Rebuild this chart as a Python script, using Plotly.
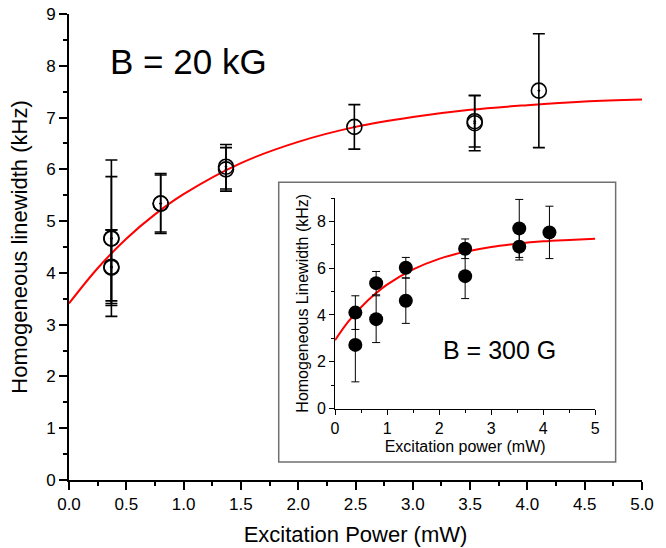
import plotly.graph_objects as go

# ---- main panel data (B = 20 kG) ----
main_power = [0.37, 0.37, 0.37, 0.37, 0.80, 0.80, 1.37, 1.37, 2.49, 3.54, 3.54, 4.10]
main_width = [4.67, 4.66, 4.10, 4.12, 5.34, 5.34, 6.05, 6.00, 6.82, 6.93, 6.89, 7.52]
main_err = [1.51, 1.20, 0.73, 0.71, 0.58, 0.55, 0.43, 0.42, 0.43, 0.50, 0.53, 1.10]

main_fit_x = [0, 0.25, 0.5, 0.75, 1.0, 1.5, 2.0, 2.5, 3.0, 3.5, 4.0, 4.5, 5.0]
main_fit_y = [3.41, 4.09, 4.66, 5.13, 5.52, 6.12, 6.53, 6.82, 7.01, 7.15, 7.24, 7.31, 7.35]

# ---- inset data (B = 300 G) ----
ins_power = [0.39, 0.39, 0.79, 0.79, 1.36, 1.36, 2.50, 2.50, 3.54, 3.54, 4.12]
ins_width = [4.10, 2.72, 5.36, 3.82, 6.02, 4.61, 6.83, 5.66, 7.70, 6.92, 7.53]
ins_err = [0.72, 1.58, 0.50, 1.00, 0.44, 0.97, 0.42, 0.96, 1.24, 0.57, 1.12]

ins_fit_x = [0, 0.25, 0.5, 0.75, 1.0, 1.5, 2.0, 2.5, 3.0, 3.5, 4.0, 4.5, 5.0]
ins_fit_y = [2.92, 3.70, 4.33, 4.86, 5.30, 5.95, 6.40, 6.70, 6.91, 7.05, 7.15, 7.21, 7.26]

main_xticks = [0, 0.5, 1, 1.5, 2, 2.5, 3, 3.5, 4, 4.5, 5]
main_xlabels = ["0.0", "0.5", "1.0", "1.5", "2.0", "2.5", "3.0", "3.5", "4.0", "4.5", "5.0"]

FONT = "Liberation Sans, Arial, sans-serif"

fig = go.Figure()

fig.add_trace(go.Scatter(
    x=main_fit_x, y=main_fit_y, mode="lines", line=dict(color="red", width=2, shape="spline"),
    xaxis="x", yaxis="y", hoverinfo="skip"))
fig.add_trace(go.Scatter(
    x=main_power, y=main_width, mode="markers",
    marker=dict(symbol="circle-open-dot", size=15, color="black", line=dict(width=1.6, color="black")),
    error_y=dict(type="data", array=main_err, visible=True, color="black", thickness=1.6, width=6),
    xaxis="x", yaxis="y"))

fig.add_trace(go.Scatter(
    x=ins_fit_x, y=ins_fit_y, mode="lines", line=dict(color="red", width=2, shape="spline"),
    xaxis="x2", yaxis="y2", hoverinfo="skip"))
fig.add_trace(go.Scatter(
    x=ins_power, y=ins_width, mode="markers",
    marker=dict(symbol="circle", size=14, color="black"),
    error_y=dict(type="data", array=ins_err, visible=True, color="black", thickness=1, width=4),
    xaxis="x2", yaxis="y2"))

axis_common = dict(showgrid=False, zeroline=False, showline=True, linecolor="black",
                   ticks="outside", tickcolor="black", mirror=False, automargin=False,
                   ticklabeloverflow="allow")

fig.update_layout(
    width=666, height=548,
    margin=dict(l=69, r=24, t=14, b=68),
    paper_bgcolor="white", plot_bgcolor="white",
    showlegend=False,
    font=dict(family=FONT, color="black"),
    xaxis=dict(**axis_common, domain=[0, 1], range=[0, 5], tickvals=main_xticks, ticktext=main_xlabels,
               linewidth=2, tickwidth=2, ticklen=8,
               minor=dict(ticks="outside", dtick=0.25, ticklen=4, tickwidth=2, tickcolor="black"),
               tickfont=dict(size=17),
               title=dict(text="Excitation Power (mW)", font=dict(size=22), standoff=13),
               anchor="y"),
    yaxis=dict(**axis_common, domain=[0, 1], range=[0, 9], dtick=1,
               linewidth=2, tickwidth=2, ticklen=8,
               minor=dict(ticks="outside", dtick=0.5, ticklen=4, tickwidth=2, tickcolor="black"),
               tickfont=dict(size=17),
               title=dict(text="Homogeneous linewidth (kHz)", font=dict(size=22), standoff=12),
               anchor="x"),
    xaxis2=dict(**axis_common, domain=[0.4643, 0.9184], range=[0, 5], dtick=1,
                linewidth=1, tickwidth=1, ticklen=5,
                minor=dict(ticks="outside", dtick=0.5, ticklen=3, tickwidth=1, tickcolor="black"),
                tickfont=dict(size=16),
                title=dict(text="Excitation power (mW)", font=dict(size=16), standoff=5),
                anchor="y2"),
    yaxis2=dict(**axis_common, domain=[0.1534, 0.6051], range=[0, 9], dtick=2,
                linewidth=1, tickwidth=1, ticklen=5,
                minor=dict(ticks="outside", dtick=1, ticklen=3, tickwidth=1, tickcolor="black"),
                tickfont=dict(size=16),
                title=dict(text="Homogeneous Linewidth (kHz)", font=dict(size=16), standoff=4),
                anchor="x2"),
    shapes=[dict(type="rect", xref="paper", yref="paper", x0=0.366, x1=0.954, y0=0.0386, y1=0.639,
                 line=dict(color="#707070", width=1.5), fillcolor="rgba(0,0,0,0)", layer="below")],
    annotations=[
        dict(text="B = 20 kG", xref="paper", yref="paper", x=0.209, y=0.899,
             xanchor="center", yanchor="middle", showarrow=False, font=dict(size=35)),
        dict(text="B = 300 G", xref="paper", yref="paper", x=0.752, y=0.279,
             xanchor="center", yanchor="middle", showarrow=False, font=dict(size=25)),
    ],
)

fig.write_html("out.html", config={"displayModeBar": False},
               post_script="document.body.style.margin='0';")
